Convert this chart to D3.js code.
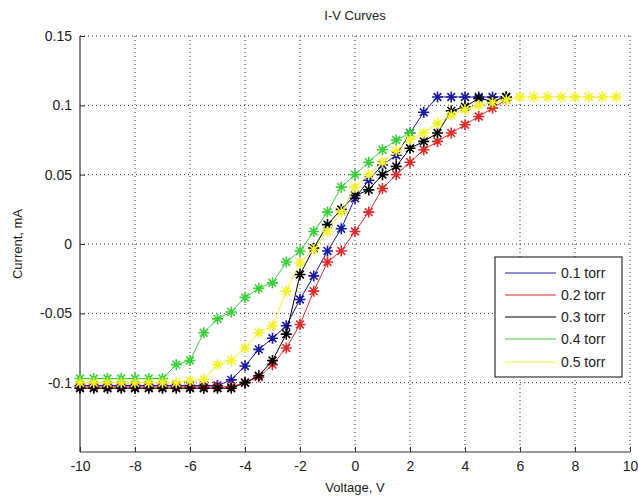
<!DOCTYPE html>
<html><head><meta charset="utf-8">
<script src="https://cdn.jsdelivr.net/npm/d3@7"></script>
<style>body{margin:0;background:#fff}svg{display:block}text{font-family:"Liberation Sans",Arial,sans-serif;fill:#222}</style>
</head><body><svg id="c" width="638" height="498"></svg>
<script>
const voltage = d3.range(-10, 10, 0.5).map(v => +v.toFixed(1));
const s01 = [-0.102,-0.102,-0.102,-0.102,-0.102,-0.102,-0.102,-0.102,-0.102,-0.102,-0.102,-0.098,-0.088,-0.076,-0.068,-0.059,-0.040,-0.023,-0.005,0.011,0.033,0.046,0.057,0.064,0.080,0.095,0.106,0.106,0.106,0.106,0.106,0.106];
const s02 = [-0.103,-0.103,-0.103,-0.103,-0.103,-0.103,-0.103,-0.103,-0.103,-0.103,-0.103,-0.103,-0.100,-0.096,-0.087,-0.075,-0.058,-0.034,-0.013,-0.005,0.009,0.023,0.040,0.050,0.059,0.068,0.074,0.080,0.086,0.092,0.098,0.104];
const s03 = [-0.104,-0.104,-0.104,-0.104,-0.104,-0.104,-0.104,-0.104,-0.104,-0.104,-0.104,-0.104,-0.100,-0.095,-0.084,-0.065,-0.022,-0.003,0.014,0.025,0.035,0.039,0.050,0.056,0.069,0.074,0.080,0.096,0.099,0.105,0.103,0.106];
const s04 = [-0.097,-0.097,-0.097,-0.097,-0.097,-0.097,-0.097,-0.087,-0.084,-0.064,-0.054,-0.049,-0.0385,-0.032,-0.028,-0.013,-0.005,0.009,0.023,0.041,0.050,0.059,0.068,0.075,0.080];
const s05 = [-0.100,-0.100,-0.100,-0.100,-0.100,-0.100,-0.100,-0.100,-0.0986,-0.0976,-0.087,-0.084,-0.075,-0.064,-0.059,-0.034,-0.0135,-0.004,0.009,0.023,0.041,0.050,0.059,0.067,0.0755,0.080,0.087,0.093,0.097,0.100,0.102,0.104,0.106,0.106,0.106,0.106,0.106,0.106,0.106,0.106];
const seriesNames = ["0.1 torr","0.2 torr","0.3 torr","0.4 torr","0.5 torr"];
const seriesColors = ["#1a1aa0","#dd2a2a","#000000","#3ad03a","#f2f22a"];
const seriesValues = [s01,s02,s03,s04,s05];
const xTicks = [-10,-8,-6,-4,-2,0,2,4,6,8,10];
const yTicks = [-0.1,-0.05,0,0.05,0.1,0.15];

const svg = d3.select("#c");
const L=80,R=630,T=36,B=452;
const x = d3.scaleLinear().domain([-10,10]).range([L,R]);
const y = d3.scaleLinear().domain([-0.15,0.15]).range([B,T]);

// grid
const g = svg.append("g");
xTicks.slice(1).forEach(t=>g.append("line").attr("x1",x(t)).attr("x2",x(t)).attr("y1",T).attr("y2",B)
  .attr("stroke","#333").attr("stroke-width",1).attr("stroke-dasharray","1,3"));
yTicks.forEach(t=>g.append("line").attr("x1",L).attr("x2",R).attr("y1",y(t)).attr("y2",y(t))
  .attr("stroke","#333").attr("stroke-width",1).attr("stroke-dasharray","1,3"));

// axes
const xa = svg.append("g").attr("transform",`translate(0,${B})`)
  .call(d3.axisBottom(x).tickValues(xTicks).tickSizeInner(-5).tickSizeOuter(0).tickPadding(9).tickFormat(d=>String(d)));
const ya = svg.append("g").attr("transform",`translate(${L},0)`)
  .call(d3.axisLeft(y).tickValues(yTicks).tickSizeInner(-5).tickSizeOuter(0).tickPadding(8).tickFormat(d=>String(+d.toFixed(2))));
[xa,ya].forEach(a=>{a.select(".domain").attr("stroke","#333").attr("stroke-width",1.2);
  a.selectAll(".tick line").attr("stroke","#333");
  a.selectAll("text").attr("font-size",14).attr("fill","#222").attr("font-family","Liberation Sans, Arial, sans-serif");});
xa.select(".domain").attr("d",`M${L},0H${R}`);
ya.select(".domain").attr("d",`M0,${B}V${T}`);

// series
const star = (cx,cy,r)=>{let p="";for(let i=0;i<4;i++){const a=i*Math.PI/4;const dx=r*Math.cos(a),dy=r*Math.sin(a);
  p+=`M${cx-dx},${cy-dy}L${cx+dx},${cy+dy}`;}return p;};
const line = d3.line().x(d=>x(d[0])).y(d=>y(d[1]));
seriesValues.forEach((vals,i)=>{
  const pts = vals.map((v,j)=>[voltage[j],v]);
  const sg = svg.append("g");
  sg.append("path").attr("d",line(pts)).attr("fill","none").attr("stroke",seriesColors[i]).attr("stroke-width",1);
  sg.append("path").attr("d",pts.map(p=>star(x(p[0]),y(p[1]),5.5)).join("")).attr("stroke",seriesColors[i]).attr("stroke-width",1.6).attr("fill","none");
});

// legend
const lg = svg.append("g");
lg.append("rect").attr("x",495).attr("y",257).attr("width",127).attr("height",120).attr("fill","#fff").attr("stroke","#333").attr("stroke-width",1.2);
const ly=[273,295,317,339,362];
seriesNames.forEach((n,i)=>{
  lg.append("line").attr("x1",505).attr("x2",556).attr("y1",ly[i]).attr("y2",ly[i]).attr("stroke",seriesColors[i]).attr("stroke-width",1);
  lg.append("text").attr("x",561).attr("y",ly[i]).attr("dy","0.35em").attr("font-size",14).text(n);
});

svg.append("text").attr("x",355).attr("y",20).attr("text-anchor","middle").attr("font-size",13).text("I-V Curves");
svg.append("text").attr("x",355).attr("y",492).attr("text-anchor","middle").attr("font-size",13).text("Voltage, V");
svg.append("text").attr("transform","translate(22,244) rotate(-90)").attr("text-anchor","middle").attr("font-size",13).text("Current, mA");
</script></body></html>
